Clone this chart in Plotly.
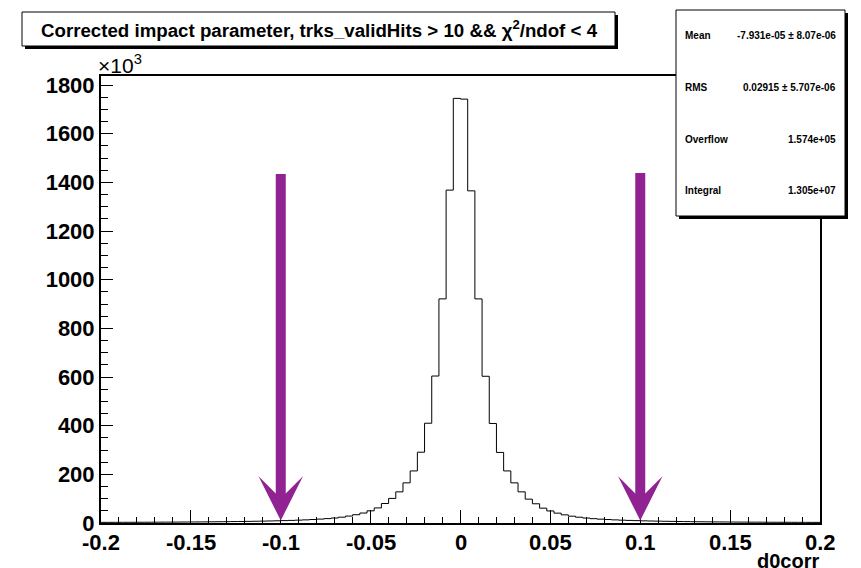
import numpy as np
import plotly.graph_objects as go

# ---------------- data ----------------
bin_low = -0.2
bin_width = 0.004
# counts (x10^3) per bin, from -0.2 to 0.2 (100 bins)
left_tail = [2.6, 2.7, 2.8, 2.9, 3.0, 3.1, 3.2, 3.3, 3.5, 3.6,
             3.8, 4.0, 4.2, 4.4, 4.6, 4.9, 5.2, 5.5, 5.9, 6.3,
             6.7, 7.2, 7.7, 8.3, 9.0, 9.8, 10.7, 11.7, 12.9, 14.3,
             16.0, 18.0, 20.5, 24.0, 28.5, 34.0, 41.0, 50.0, 62.0]
core = [80, 101, 128, 165, 214, 291, 410, 604, 921, 1368, 1745,
        1742, 1365, 921, 603, 409, 290, 214, 165, 128, 98, 79]
right_tail = [61.0, 49.5, 40.5, 33.5, 28.0, 23.8, 20.3, 17.8, 15.8, 14.2,
              12.8, 11.6, 10.6, 9.7, 8.9, 8.2, 7.6, 7.1, 6.6, 6.2,
              5.8, 5.4, 5.1, 4.8, 4.5, 4.3, 4.1, 3.9, 3.7, 3.5,
              3.4, 3.2, 3.1, 3.0, 2.9, 2.8, 2.7, 2.6, 2.5]
counts = left_tail + core + right_tail

arrow_x = [-0.1, 0.1]
arrow_top = [1440, 1445]
arrow_tip = [10, 10]

title_text = "Corrected impact parameter, trks_validHits > 10 && χ<sup>2</sup>/ndof < 4"
stat_labels = ["Mean", "RMS", "Overflow", "Integral"]
stat_values = ["-7.931e-05 ± 8.07e-06", "0.02915 ± 5.707e-06", "1.574e+05", "1.305e+07"]
x_title = "d0corr"
x_ticks = [-0.2, -0.15, -0.1, -0.05, 0, 0.05, 0.1, 0.15, 0.2]
x_ticklabels = ["-0.2", "-0.15", "-0.1", "-0.05", "0", "0.05", "0.1", "0.15", "0.2"]
y_ticks = [0, 200, 400, 600, 800, 1000, 1200, 1400, 1600, 1800]

# ---------------- geometry helpers ----------------
W, H = 861, 568
ML, MR, MT, MB = 101, 41, 76, 45
PW, PH = W - ML - MR, H - MT - MB


def px(X):
    return (X - ML) / PW


def py(Y):
    return (H - MB - Y) / PH


edges = bin_low + bin_width * np.arange(len(counts) + 1)
yvals = list(counts) + [counts[-1]]

FONT = "Liberation Sans, Arial, Helvetica, sans-serif"
PURPLE = "#912291"

fig = go.Figure()
fig.add_trace(go.Scatter(x=edges, y=yvals, mode="lines",
                         line=dict(shape="hv", color="black", width=1),
                         hoverinfo="skip", showlegend=False))

shapes = []
# title box with shadow
sx, sy = 3 / PW, 3 / PH
shapes.append(dict(type="rect", xref="paper", yref="paper",
                   x0=px(22) + sx, x1=px(615) + sx, y0=py(46) - sy, y1=py(12) - sy,
                   fillcolor="black", line=dict(width=0), layer="above"))
shapes.append(dict(type="rect", xref="paper", yref="paper",
                   x0=px(22), x1=px(615), y0=py(46), y1=py(12),
                   fillcolor="white", line=dict(color="black", width=1), layer="above"))
# stats box with shadow
shapes.append(dict(type="rect", xref="paper", yref="paper",
                   x0=px(676) + sx, x1=px(845) + sx, y0=py(216) - sy, y1=py(10) - sy,
                   fillcolor="black", line=dict(width=0), layer="above"))
shapes.append(dict(type="rect", xref="paper", yref="paper",
                   x0=px(676), x1=px(845), y0=py(216), y1=py(10),
                   fillcolor="white", line=dict(color="black", width=1), layer="above"))

annotations = []
annotations.append(dict(xref="paper", yref="paper", x=px(319), y=py(29),
                        text="<b>" + title_text + "</b>", showarrow=False,
                        xanchor="center", yanchor="middle",
                        font=dict(family=FONT, size=18.7, color="black")))
stat_rows_y = [36, 88, 139, 190]
for lab, val, yy in zip(stat_labels, stat_values, stat_rows_y):
    annotations.append(dict(xref="paper", yref="paper", x=px(683), y=py(yy),
                            text="<b>" + lab + "</b>", showarrow=False,
                            xanchor="left", yanchor="middle",
                            font=dict(family=FONT, size=10, color="black")))
    annotations.append(dict(xref="paper", yref="paper", x=px(838), y=py(yy),
                            text="<b>" + val + "</b>", showarrow=False,
                            xanchor="right", yanchor="middle",
                            font=dict(family=FONT, size=10, color="black")))
annotations.append(dict(xref="paper", yref="paper", x=px(96), y=py(79),
                        text="×10<sup>3</sup>", showarrow=False,
                        xanchor="left", yanchor="bottom",
                        font=dict(family=FONT, size=21, color="black")))
annotations.append(dict(xref="paper", yref="paper", x=px(821), y=py(548),
                        text="<b>" + x_title + "</b>", showarrow=False,
                        xanchor="right", yanchor="top",
                        font=dict(family=FONT, size=20, color="black")))
# x tick labels (placed close to the axis as in the reference)
for tv, tl in zip(x_ticks, x_ticklabels):
    annotations.append(dict(xref="x", yref="paper", x=tv, y=py(528),
                            text="<b>" + tl + "</b>", showarrow=False,
                            xanchor="center", yanchor="top",
                            font=dict(family=FONT, size=22, color="black")))
for xa, yt, yb in zip(arrow_x, arrow_top, arrow_tip):
    annotations.append(dict(x=xa, y=yb, ax=xa, ay=yt, xref="x", yref="y",
                            axref="x", ayref="y", text="", showarrow=True,
                            arrowhead=3, arrowsize=0.74, arrowwidth=10,
                            arrowcolor=PURPLE))

fig.update_layout(
    width=W, height=H,
    margin=dict(l=ML, r=MR, t=MT, b=MB, pad=0),
    paper_bgcolor="white", plot_bgcolor="white",
    shapes=shapes, annotations=annotations,
    font=dict(family=FONT, color="black"),
    xaxis=dict(range=[-0.2, 0.2], showgrid=False, zeroline=False,
               showline=True, linecolor="black", linewidth=2, mirror=True,
               ticks="inside", ticklen=13, tickwidth=1, tickcolor="black",
               tickvals=x_ticks, showticklabels=False,
               minor=dict(ticks="inside", ticklen=6, dtick=0.01, tick0=0,
                          tickcolor="black", tickwidth=1, showgrid=False)),
    yaxis=dict(range=[0, 1837], showgrid=False, zeroline=False,
               showline=True, linecolor="black", linewidth=2, mirror=True,
               ticks="inside", ticklen=12, tickwidth=1, tickcolor="black",
               tickvals=y_ticks, ticktext=["<b>%d</b>" % t for t in y_ticks],
               tickfont=dict(family=FONT, size=22, color="black"),
               minor=dict(ticks="inside", ticklen=7, dtick=50, tick0=0,
                          tickcolor="black", tickwidth=1, showgrid=False)),
)

fig.write_html("out.html")
